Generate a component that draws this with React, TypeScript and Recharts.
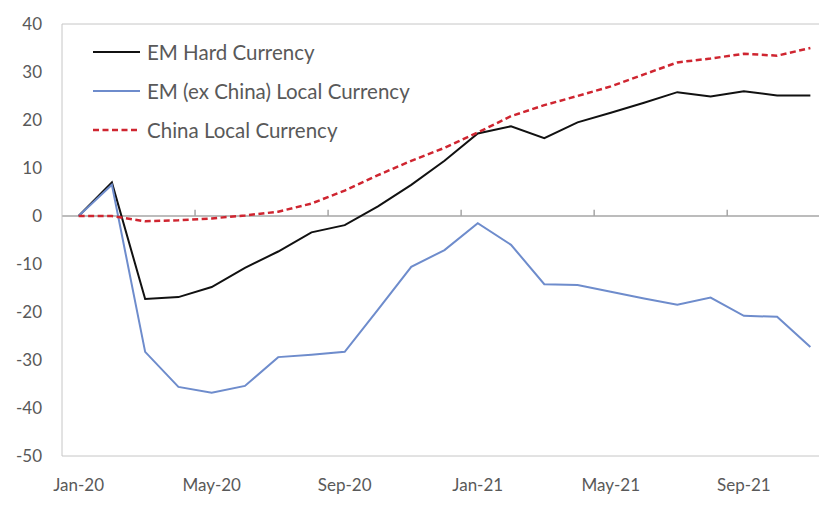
import { Line, LineChart, ReferenceLine, XAxis, YAxis } from "recharts";

const MONTHS = [
  "Jan-20", "Feb-20", "Mar-20", "Apr-20", "May-20", "Jun-20", "Jul-20", "Aug-20",
  "Sep-20", "Oct-20", "Nov-20", "Dec-20", "Jan-21", "Feb-21", "Mar-21", "Apr-21",
  "May-21", "Jun-21", "Jul-21", "Aug-21", "Sep-21", "Oct-21", "Nov-21",
];

const EM_HARD = [
  0, 7, -17.3, -16.9, -14.8, -10.8, -7.4, -3.4, -1.9, 2, 6.5, 11.5, 17.2, 18.7,
  16.2, 19.5, 21.5, 23.6, 25.8, 24.9, 26, 25.1, 25.1,
];

const EM_LOCAL = [
  0, 6.5, -28.3, -35.6, -36.8, -35.4, -29.4, -28.9, -28.3, -19.5, -10.6, -7.1,
  -1.5, -6, -14.2, -14.4, -15.8, -17.2, -18.5, -17, -20.8, -21, -27.3,
];

const CHINA_LOCAL = [
  0, 0, -1.1, -0.9, -0.5, 0.1, 0.9, 2.6, 5.3, 8.5, 11.5, 14.2, 17.4, 20.8, 23.1,
  25, 27, 29.5, 32, 32.8, 33.8, 33.4, 35,
];

const X_TICKS = [0, 4, 8, 12, 16, 20];
const Y_TICKS = [-50, -40, -30, -20, -10, 0, 10, 20, 30, 40];
// little tick marks on the zero line sit between categories
const TICK_BOUNDARIES = [3.5, 7.5, 11.5, 15.5, 19.5];

const FONT = "Lato, 'Open Sans', sans-serif";
const INK = "#595959";
const BORDER = "#c6c6c6";
const ZERO = "#a6a6a6";

const SERIES = [
  { key: "hard", name: "EM Hard Currency", color: "#111111", width: 2, dash: undefined },
  { key: "local", name: "EM (ex China) Local Currency", color: "#6e8ccc", width: 2, dash: undefined },
  { key: "china", name: "China Local Currency", color: "#cf2530", width: 2.5, dash: "6 3.5" },
];

const data = MONTHS.map((m, i) => ({
  idx: i,
  month: m,
  hard: EM_HARD[i],
  local: EM_LOCAL[i],
  china: CHINA_LOCAL[i],
}));

// drawn as an overlay so it doesn't eat into the plot height
function LegendBox() {
  return (
    <div style={{ position: "absolute", left: 93, top: 32, fontFamily: FONT }}>
      {SERIES.map((s) => (
        <div key={s.key} style={{ display: "flex", alignItems: "center", height: 39 }}>
          <svg width={47} height={6} style={{ display: "block" }}>
            <line
              x1={0}
              y1={3}
              x2={47}
              y2={3}
              stroke={s.color}
              strokeWidth={s.width}
              strokeDasharray={s.dash}
            />
          </svg>
          <span style={{ marginLeft: 7, fontSize: 20.5, color: INK, whiteSpace: "nowrap" }}>
            {s.name}
          </span>
        </div>
      ))}
    </div>
  );
}

export default function App() {
  return (
    <div
      style={{
        position: "absolute",
        left: 0,
        top: 0,
        width: 819,
        height: 527,
        overflow: "hidden",
        background: "#fff",
      }}
    >
      <LineChart
        width={830}
        height={527}
        data={data}
        margin={{ top: 24, right: 3, bottom: 31, left: 0 }}
        style={{ fontFamily: FONT }}
      >
        <XAxis
          dataKey="idx"
          type="number"
          domain={[-0.5, 22.5]}
          ticks={X_TICKS}
          tickFormatter={(v: number) => MONTHS[v] ?? ""}
          height={40}
          axisLine={{ stroke: BORDER }}
          tickLine={false}
          tickMargin={17}
          tick={{ fill: INK, fontSize: 17, fontFamily: FONT }}
        />
        <YAxis
          domain={[-50, 40]}
          ticks={Y_TICKS}
          width={62}
          axisLine={{ stroke: BORDER }}
          tickLine={false}
          tickMargin={14}
          tick={{ fill: INK, fontSize: 17, fontFamily: FONT }}
        />
        <ReferenceLine y={40} stroke={BORDER} />
        <ReferenceLine y={0} stroke={ZERO} strokeWidth={1.5} />
        {TICK_BOUNDARIES.map((x) => (
          <ReferenceLine
            key={x}
            segment={[
              { x, y: 0 },
              { x, y: 1.3 },
            ]}
            stroke={ZERO}
            strokeWidth={1.5}
          />
        ))}
        {SERIES.map((s) => (
          <Line
            key={s.key}
            type="linear"
            dataKey={s.key}
            name={s.name}
            stroke={s.color}
            strokeWidth={s.width}
            strokeDasharray={s.dash}
            dot={false}
            activeDot={false}
            isAnimationActive={false}
          />
        ))}
      </LineChart>
      <LegendBox />
    </div>
  );
}
